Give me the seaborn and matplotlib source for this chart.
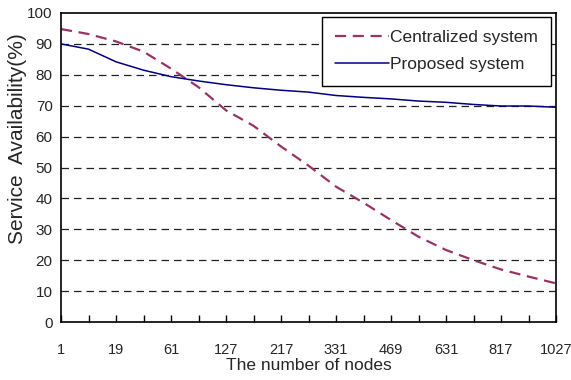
import numpy as np
import matplotlib
matplotlib.use("Agg")
import matplotlib.pyplot as plt
import seaborn as sns

# number of nodes (categories on the x axis)
nodes = [1, 7, 19, 37, 61, 91, 127, 169, 217, 271, 331, 397, 469, 547, 631, 721, 817, 919, 1027]
centralized = [94.8, 93.2, 90.8, 87.5, 82.0, 76.0, 68.5, 63.5, 56.8, 50.6,
               43.8, 38.6, 33.0, 27.6, 23.3, 20.0, 17.0, 14.7, 12.5]
proposed = [90.0, 88.3, 84.2, 81.5, 79.4, 78.0, 76.8, 75.8, 75.0, 74.4,
            73.3, 72.7, 72.2, 71.5, 71.1, 70.4, 69.9, 69.9, 69.5]
y_ticks = list(range(0, 101, 10))

sns.set_theme(style="white")
plt.rcParams['font.family'] = ['Liberation Sans', 'DejaVu Sans']

fig = plt.figure(figsize=(5.71, 3.80), dpi=100)
ax = fig.add_axes([61 / 571, 58 / 380, 495 / 571, 309 / 380])

pos = np.arange(len(nodes))
sns.lineplot(x=pos, y=centralized, ax=ax, color='#993366', linewidth=1.6,
             label='Centralized system')
sns.lineplot(x=pos, y=proposed, ax=ax, color='#000080', linewidth=1.1,
             label='Proposed system')
ax.lines[0].set_dashes([5, 3])

ax.set_xlim(0, len(nodes) - 1)
ax.set_ylim(0, 100)
ax.set_yticks(y_ticks)
ax.set_yticklabels([str(v) for v in y_ticks], fontsize=11)
for v in y_ticks[1:-1]:
    ax.axhline(v, color='#222222', linewidth=0.9, linestyle=(0, (6, 4)), zorder=0)

ax.set_xticks(pos[::2])
ax.set_xticklabels([str(n) for n in nodes[::2]], fontsize=10.5)
ax.set_xticks(pos, minor=True)
ax.tick_params(axis='x', which='both', direction='in', length=5, width=1,
               color='black', pad=15, bottom=True)
ax.tick_params(axis='y', length=0, pad=6)

for s in ax.spines.values():
    s.set_color('black')
    s.set_linewidth(1.2)

ax.set_xlabel('The number of nodes', fontsize=12.5)
ax.xaxis.set_label_coords(0.5, -0.118)
ax.set_ylabel('Service  Availability(%)', fontsize=15)
ax.yaxis.set_label_coords(-0.068, 0.595)

leg = ax.legend(loc='upper right', bbox_to_anchor=(0.99, 0.987), borderaxespad=0,
                fancybox=False, edgecolor='black', framealpha=1,
                prop={'size': 12.5}, handlelength=3.1,
                handletextpad=0.05, borderpad=0.75, labelspacing=0.7)
leg.get_frame().set_linewidth(1.0)

fig.savefig('out.png', dpi=100)
